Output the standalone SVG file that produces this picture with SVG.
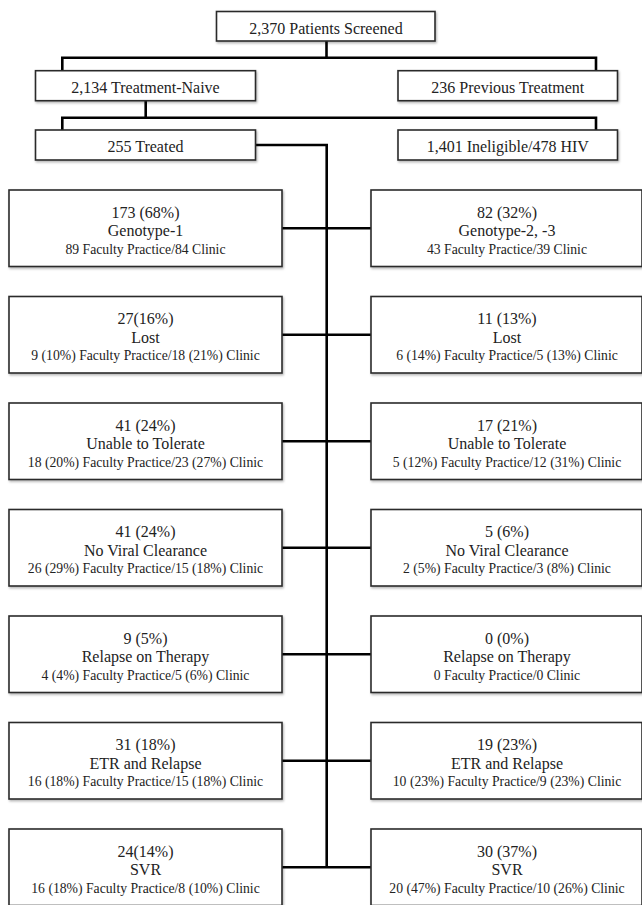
<svg xmlns="http://www.w3.org/2000/svg" width="642" height="905" viewBox="0 0 642 905">
<style>
.box{fill:#fff;stroke:#2a2a2a;stroke-width:1.6;filter:url(#sh)}
.t{font-family:"Liberation Serif","Times New Roman",serif;fill:#222;text-anchor:middle}
.m{font-size:16px}
.s{font-size:13.7px}
.c{fill:none;stroke:#000;stroke-width:2.6;stroke-linejoin:miter}
</style>
<defs>
<filter id="sh" x="-5%" y="-10%" width="110%" height="130%">
<feDropShadow dx="1" dy="1.5" stdDeviation="1" flood-color="#000" flood-opacity="0.3"/>
</filter>
</defs>
<rect width="642" height="905" fill="#fff"/>
<g id="connectors">
<path class="c" d="M326.5 41V57.7"/>
<path class="c" d="M62.3 70.7V57.7H596V70.7"/>
<path class="c" d="M145.7 100.7V117.7"/>
<path class="c" d="M62.3 130V117.7H596V130"/>
<path class="c" d="M255.5 145H326.7V867.25"/>
<path class="c" d="M282 228.25H371"/>
<path class="c" d="M282 334.75H371"/>
<path class="c" d="M282 441.25H371"/>
<path class="c" d="M282 547.75H371"/>
<path class="c" d="M282 654.25H371"/>
<path class="c" d="M282 760.75H371"/>
<path class="c" d="M282 867.25H371"/>
</g>
<g id="n_screened"><rect class="box" x="216.5" y="11.5" width="218.5" height="29.5"/><text class="t m" x="326" y="34">2,370 Patients Screened</text></g>
<g id="n_naive"><rect class="box" x="35.5" y="70.7" width="220" height="30"/><text class="t m" x="145.5" y="93.2">2,134 Treatment-Naive</text></g>
<g id="n_previous"><rect class="box" x="398" y="70.7" width="219.5" height="30"/><text class="t m" x="507.8" y="93.2">236 Previous Treatment</text></g>
<g id="n_treated"><rect class="box" x="35.5" y="130" width="220" height="30"/><text class="t m" x="145.5" y="152.4">255 Treated</text></g>
<g id="n_ineligible"><rect class="box" x="398" y="130" width="219.5" height="30"/><text class="t m" x="507.8" y="152.4">1,401 Ineligible/478 HIV</text></g>

<g id="l_genotype"><rect class="box" x="9" y="190" width="273" height="76.5"/><text class="t m" x="145.5" y="217.5">173 (68%)</text><text class="t m" x="145.5" y="236.2">Genotype-1</text><text class="t s" x="145.5" y="253.5">89 Faculty Practice/84 Clinic</text></g>
<g id="r_genotype"><rect class="box" x="371" y="190" width="271" height="76.5"/><text class="t m" x="507" y="217.5">82 (32%)</text><text class="t m" x="507" y="236.2">Genotype-2, -3</text><text class="t s" x="507" y="253.5">43 Faculty Practice/39 Clinic</text></g>

<g id="l_lost"><rect class="box" x="9" y="296.5" width="273" height="76.5"/><text class="t m" x="145.5" y="324">27(16%)</text><text class="t m" x="145.5" y="342.7">Lost</text><text class="t s" x="145.5" y="360">9 (10%) Faculty Practice/18 (21%) Clinic</text></g>
<g id="r_lost"><rect class="box" x="371" y="296.5" width="271" height="76.5"/><text class="t m" x="507" y="324">11 (13%)</text><text class="t m" x="507" y="342.7">Lost</text><text class="t s" x="507" y="360">6 (14%) Faculty Practice/5 (13%) Clinic</text></g>

<g id="l_unable"><rect class="box" x="9" y="403" width="273" height="76.5"/><text class="t m" x="145.5" y="430.5">41 (24%)</text><text class="t m" x="145.5" y="449.2">Unable to Tolerate</text><text class="t s" x="145.5" y="466.5">18 (20%) Faculty Practice/23 (27%) Clinic</text></g>
<g id="r_unable"><rect class="box" x="371" y="403" width="271" height="76.5"/><text class="t m" x="507" y="430.5">17 (21%)</text><text class="t m" x="507" y="449.2">Unable to Tolerate</text><text class="t s" x="507" y="466.5">5 (12%) Faculty Practice/12 (31%) Clinic</text></g>

<g id="l_noviral"><rect class="box" x="9" y="509.5" width="273" height="76.5"/><text class="t m" x="145.5" y="537">41 (24%)</text><text class="t m" x="145.5" y="555.7">No Viral Clearance</text><text class="t s" x="145.5" y="573">26 (29%) Faculty Practice/15 (18%) Clinic</text></g>
<g id="r_noviral"><rect class="box" x="371" y="509.5" width="271" height="76.5"/><text class="t m" x="507" y="537">5 (6%)</text><text class="t m" x="507" y="555.7">No Viral Clearance</text><text class="t s" x="507" y="573">2 (5%) Faculty Practice/3 (8%) Clinic</text></g>

<g id="l_relapse"><rect class="box" x="9" y="616" width="273" height="76.5"/><text class="t m" x="145.5" y="643.5">9 (5%)</text><text class="t m" x="145.5" y="662.2">Relapse on Therapy</text><text class="t s" x="145.5" y="679.5">4 (4%) Faculty Practice/5 (6%) Clinic</text></g>
<g id="r_relapse"><rect class="box" x="371" y="616" width="271" height="76.5"/><text class="t m" x="507" y="643.5">0 (0%)</text><text class="t m" x="507" y="662.2">Relapse on Therapy</text><text class="t s" x="507" y="679.5">0 Faculty Practice/0 Clinic</text></g>

<g id="l_etr"><rect class="box" x="9" y="722.5" width="273" height="76.5"/><text class="t m" x="145.5" y="750">31 (18%)</text><text class="t m" x="145.5" y="768.7">ETR and Relapse</text><text class="t s" x="145.5" y="786">16 (18%) Faculty Practice/15 (18%) Clinic</text></g>
<g id="r_etr"><rect class="box" x="371" y="722.5" width="271" height="76.5"/><text class="t m" x="507" y="750">19 (23%)</text><text class="t m" x="507" y="768.7">ETR and Relapse</text><text class="t s" x="507" y="786">10 (23%) Faculty Practice/9 (23%) Clinic</text></g>

<g id="l_svr"><rect class="box" x="9" y="829" width="273" height="76.5"/><text class="t m" x="145.5" y="856.5">24(14%)</text><text class="t m" x="145.5" y="875.2">SVR</text><text class="t s" x="145.5" y="892.5">16 (18%) Faculty Practice/8 (10%) Clinic</text></g>
<g id="r_svr"><rect class="box" x="371" y="829" width="271" height="76.5"/><text class="t m" x="507" y="856.5">30 (37%)</text><text class="t m" x="507" y="875.2">SVR</text><text class="t s" x="507" y="892.5">20 (47%) Faculty Practice/10 (26%) Clinic</text></g>
</svg>
